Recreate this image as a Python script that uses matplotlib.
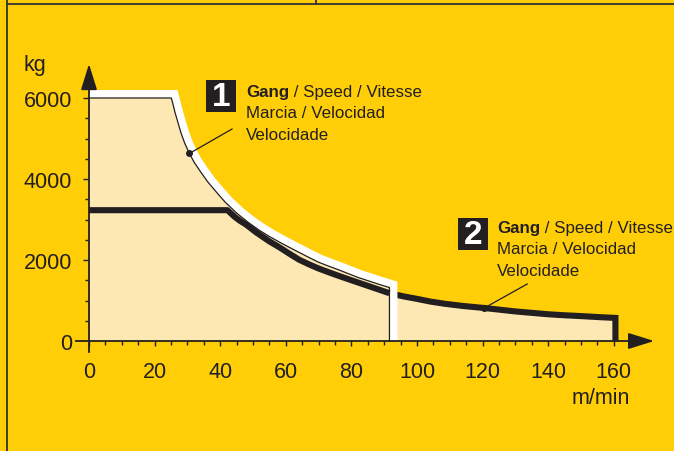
import matplotlib
matplotlib.use("Agg")
import matplotlib.pyplot as plt
from matplotlib.lines import Line2D
from matplotlib.patches import Rectangle, Polygon
import numpy as np

# ---------------- data ----------------
# Gear 1 (thin line with white outline): load (kg) vs speed (m/min)
speed1 = [0, 25.1, 25.6, 26.2, 27.1, 28.0, 29.2, 30.5, 32, 34, 36.2, 38.7, 41.5, 45, 48.5,
          52, 55, 58, 61, 64, 67, 70, 73, 76, 79, 82, 85, 88, 91.6]
load1 = [6000, 6000, 5850, 5650, 5400, 5150, 4880, 4650, 4420, 4180, 3930, 3690, 3430, 3160, 2930,
         2730, 2580, 2445, 2315, 2190, 2065, 1945, 1850, 1760, 1665, 1570, 1490, 1410, 1320]
# Gear 2 (thick line)
speed2 = [0, 42.2, 43.3, 44.5, 46, 47.8, 51, 55, 57.9, 61, 64, 67, 70, 73, 76, 80, 84, 88, 91.6,
          96, 100, 104, 108.4, 114, 120.5, 125, 130, 135, 140, 145, 150, 155, 160.5]
load2 = [3230, 3230, 3150, 3060, 2970, 2880, 2680, 2460, 2321, 2160, 2010, 1895, 1790, 1700, 1612,
         1500, 1390, 1280, 1180, 1100, 1040, 975, 920, 865, 815, 775, 730, 695, 660, 635, 615, 592, 570]

x_ticks = [0, 20, 40, 60, 80, 100, 120, 140, 160]
y_ticks = [0, 2000, 4000, 6000]
x_unit = "m/min"
y_unit = "kg"
label_lines = ["Gang", " / Speed / Vitesse", "Marcia / Velocidad", "Velocidade"]

# ---------------- style ----------------
W, H = 674, 452
BG = "#FFCE07"
CREAM = "#FDE8B3"
INK = "#231F20"
SANS = ["Liberation Sans", "DejaVu Sans"]
LBL = 12.2

fig = plt.figure(figsize=(W / 100, H / 100), dpi=100, facecolor=BG)
ax = fig.add_axes([0, 0, 1, 1])
ax.set_facecolor(BG)

# pixel mapping: x=0 -> px 89, 3.28 px/unit ; y=0 -> py 342, 6000 -> py 99
x0px, xs = 89.0, 3.28
y0px, ys = 342.0, 243.0 / 6000.0
ax.set_xlim(-x0px / xs, (W - x0px) / xs)
ax.set_ylim((y0px - H) / ys, y0px / ys)


def fx(x):
    return x / W


def fy(y):
    return 1 - y / H


# envelope fill (curve 1 up to its end, then curve 2)
x_end1 = speed1[-1]
env_x = list(speed1) + [x for x in speed2 if x > x_end1] + [speed2[-1], 0]
env_y = list(load1) + [y for x, y in zip(speed2, load2) if x > x_end1] + [0, 0]
ax.add_patch(Polygon(np.column_stack([env_x, env_y]), closed=True, fc=CREAM, ec="none", zorder=1))

# thick curve 2, part right of curve-1 end (goes under the white band)
sx2 = np.array(speed2)
sy2 = np.array(load2)
mask_r = sx2 >= x_end1
ax.plot(list(sx2[mask_r]) + [speed2[-1]], list(sy2[mask_r]) + [0], color=INK, lw=4.4,
        solid_joinstyle="miter", solid_capstyle="butt", zorder=2)

# white band around curve 1
band_x = list(speed1) + [x_end1]
band_y = list(load1) + [0]
ax.plot(band_x, band_y, color="white", lw=11.5, solid_joinstyle="miter",
        solid_capstyle="butt", zorder=3)
# cream inside curve 1 covers inner half of the band
ax.add_patch(Polygon(np.array([(0, 0)] + list(zip(speed1, load1)) + [(x_end1, 0)]),
                     closed=True, fc=CREAM, ec="none", zorder=4))

# thick curve 2 left part
mask_l = sx2 <= x_end1
ax.plot(sx2[mask_l], sy2[mask_l], color=INK, lw=4.4, solid_joinstyle="round",
        solid_capstyle="butt", zorder=5)
# thin curve 1 line
ax.plot(band_x, band_y, color=INK, lw=0.9, solid_joinstyle="miter", zorder=6)

# ---------------- axes ----------------
for s in ["top", "right"]:
    ax.spines[s].set_visible(False)
ax.spines["left"].set_position(("data", 0))
ax.spines["bottom"].set_position(("data", 0))
ax.spines["left"].set_bounds(-11 / ys, 6296)
ax.spines["bottom"].set_bounds(-13 / xs, 166)
for s in ["left", "bottom"]:
    ax.spines[s].set_color(INK)
    ax.spines[s].set_linewidth(1.3)
    ax.spines[s].set_zorder(8)

ax.set_xticks(x_ticks)
ax.set_xticks(np.arange(5, 160, 5), minor=True)
ax.set_yticks(y_ticks)
ax.set_yticks([v for v in np.arange(500, 6000, 500) if v % 2000], minor=True)
ax.set_xticklabels([str(v) for v in x_ticks])
ax.set_yticklabels([str(v) for v in y_ticks])
ax.tick_params(axis="x", which="major", direction="out", length=3.6, width=1.0, color=INK,
               pad=11, labelsize=15.5, labelcolor=INK)
ax.tick_params(axis="x", which="minor", direction="out", length=2.8, width=1.0, color=INK)
ax.tick_params(axis="y", which="major", direction="out", length=4.4, width=1.0, color=INK,
               pad=8, labelsize=15.5, labelcolor=INK)
ax.tick_params(axis="y", which="minor", direction="out", length=2.6, width=1.0, color=INK)
for lab in ax.get_xticklabels() + ax.get_yticklabels():
    lab.set_fontfamily(SANS)
ax.yaxis.get_major_ticks()[0].tick1line.set_markersize(0)

# arrowheads
ax.annotate("", xy=(0, 6839), xytext=(0, 6290), zorder=9,
            arrowprops=dict(arrowstyle="-|>,head_length=0.64,head_width=0.2", mutation_scale=25,
                            color=INK, lw=1.3, shrinkA=0, shrinkB=0))
ax.annotate("", xy=(172.3, 0), xytext=(165.5, 0), zorder=9,
            arrowprops=dict(arrowstyle="-|>,head_length=0.64,head_width=0.2", mutation_scale=25,
                            color=INK, lw=1.3, shrinkA=0, shrinkB=0))

fig.text(fx(35), fy(66), y_unit, ha="center", va="center", fontsize=15.5, color=INK, family=SANS)
fig.text(fx(601), fy(399), x_unit, ha="center", va="center", fontsize=15.5, color=INK, family=SANS)


# ---------------- labels ----------------
def gear_label(num, bx, by, tx, ty, dot, start):
    fig.patches.append(Rectangle((fx(bx), fy(by + 32)), 30 / W, 32 / H, transform=fig.transFigure,
                                 fc=INK, ec="none", zorder=10))
    fig.text(fx(bx + 15), fy(by + 16.5), num, ha="center", va="center", fontsize=24,
             fontweight="bold", color="white", family=SANS, zorder=11)
    tb = fig.text(fx(tx), fy(ty), label_lines[0], ha="left", va="center_baseline", fontsize=LBL,
                  fontweight="bold", color=INK, family=SANS)
    ax.annotate(label_lines[1], xy=(1, 0), xycoords=tb, ha="left", va="bottom", fontsize=LBL,
                color=INK, family=SANS, annotation_clip=False)
    fig.text(fx(tx), fy(ty + 21.5), label_lines[2], ha="left", va="center_baseline", fontsize=LBL,
             color=INK, family=SANS)
    fig.text(fx(tx), fy(ty + 43), label_lines[3], ha="left", va="center_baseline", fontsize=LBL,
             color=INK, family=SANS)
    ax.plot([start[0], dot[0]], [start[1], dot[1]], color=INK, lw=0.9, zorder=7)
    ax.plot([dot[0]], [dot[1]], "o", color=INK, ms=4, zorder=7)


gear_label("1", 206, 81, 246, 91, (30.6, 4630), (43.6, 5234))
gear_label("2", 458, 219, 497, 227, (120.5, 815), (133.6, 1407))

# ---------------- page frame ----------------
for (xa, ya, xb, yb) in [(7, 5, W, 5), (7, 0, 7, H), (316, 0, 316, 5)]:
    fig.add_artist(Line2D([fx(xa), fx(xb)], [fy(ya), fy(yb)], color="#333333", lw=1.3))

fig.savefig("out.png", dpi=100, facecolor=BG)
